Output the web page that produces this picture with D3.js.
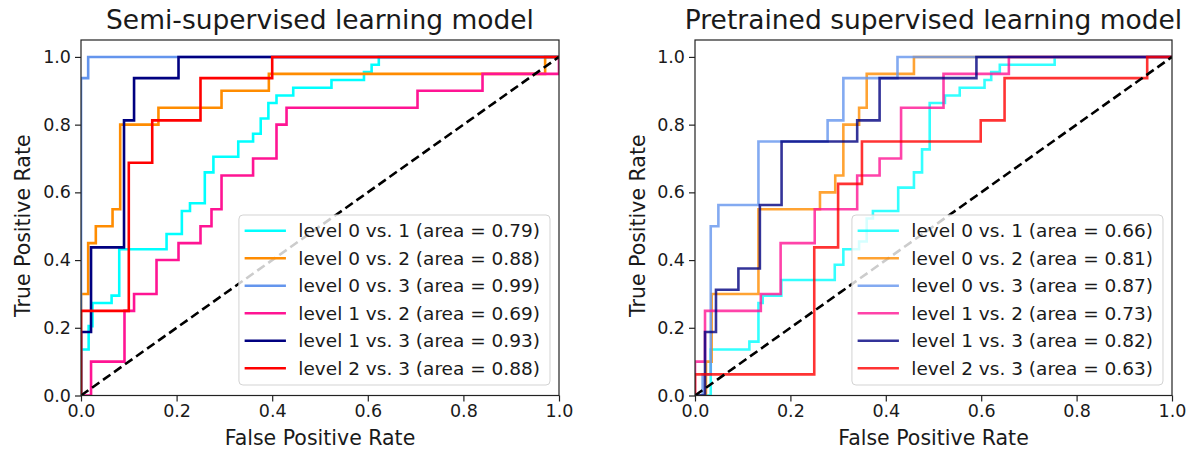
<!DOCTYPE html>
<html>
<head>
<meta charset="utf-8">
<script src="https://cdnjs.cloudflare.com/ajax/libs/d3/7.8.5/d3.min.js"></script>
<style>
  body { margin: 0; background: #fff; }
  svg { display: block; font-family: "DejaVu Sans", sans-serif; }
</style>
</head>
<body>
<svg id="chart" width="1192" height="451"></svg>
<script>
// ---- Axis ticks -------------------------------------------------------
const tickValues = [0, 0.2, 0.4, 0.6, 0.8, 1.0];
const tickLabels = ["0.0", "0.2", "0.4", "0.6", "0.8", "1.0"];

// ---- Class pairs and AUC values ---------------------------------------
const pairLabels = ["level 0 vs. 1", "level 0 vs. 2", "level 0 vs. 3",
                    "level 1 vs. 2", "level 1 vs. 3", "level 2 vs. 3"];
const semiAreas = [0.79, 0.88, 0.99, 0.69, 0.93, 0.88];
const preAreas  = [0.66, 0.81, 0.87, 0.73, 0.82, 0.63];
const panelTitles = ["Semi-supervised learning model", "Pretrained supervised learning model"];
const chance = [0, 1];

// ---- ROC corner points (fpr, tpr), semi-supervised model ----------------
const semiFpr01 = [0, 0, 0.016, 0.024, 0.064, 0.08, 0.179, 0.211, 0.228, 0.259, 0.277, 0.329, 0.36, 0.376, 0.392, 0.409, 0.444, 0.524, 0.592, 0.608, 0.623, 1];
const semiTpr01 = [0, 0.136, 0.205, 0.273, 0.295, 0.432, 0.477, 0.545, 0.568, 0.659, 0.705, 0.75, 0.773, 0.818, 0.864, 0.886, 0.909, 0.932, 0.955, 0.977, 1, 1];
const semiFpr02 = [0, 0, 0.015, 0.031, 0.066, 0.082, 0.162, 0.294, 0.393, 0.971, 1];
const semiTpr02 = [0, 0.3, 0.45, 0.5, 0.55, 0.8, 0.85, 0.9, 0.95, 1, 1];
const semiFpr03 = [0, 0, 0.015, 1];
const semiTpr03 = [0, 0.9375, 1, 1];
const semiFpr12 = [0, 0.021, 0.091, 0.111, 0.158, 0.204, 0.25, 0.273, 0.294, 0.36, 0.409, 0.43, 0.704, 0.84, 1];
const semiTpr12 = [0, 0.1, 0.25, 0.3, 0.4, 0.45, 0.5, 0.55, 0.65, 0.7, 0.8, 0.85, 0.9, 0.95, 1];
const semiFpr13 = [0, 0, 0.021, 0.09, 0.111, 0.204, 1];
const semiTpr13 = [0, 0.1875, 0.4375, 0.8125, 0.9375, 1, 1];
const semiFpr23 = [0, 0, 0.1, 0.149, 0.25, 0.4, 1];
const semiTpr23 = [0, 0.25, 0.6875, 0.8125, 0.9375, 1, 1];

// ---- ROC corner points (fpr, tpr), pretrained supervised model ----------
const preFpr01 = [0, 0.033, 0.114, 0.133, 0.142, 0.181, 0.293, 0.311, 0.344, 0.36, 0.373, 0.426, 0.459, 0.476, 0.492, 0.524, 0.555, 0.607, 0.621, 0.639, 0.754, 1];
const preTpr01 = [0, 0.136, 0.159, 0.273, 0.295, 0.341, 0.386, 0.432, 0.455, 0.523, 0.545, 0.614, 0.659, 0.727, 0.864, 0.886, 0.909, 0.932, 0.955, 0.977, 1, 1];
const preFpr02 = [0, 0.023, 0.035, 0.133, 0.262, 0.294, 0.311, 0.344, 0.36, 0.459, 1];
const preTpr02 = [0, 0.1, 0.3, 0.55, 0.6, 0.65, 0.8, 0.85, 0.95, 1, 1];
const preFpr03 = [0, 0.016, 0.033, 0.049, 0.133, 0.278, 0.311, 0.4245, 1];
const preTpr03 = [0, 0.0625, 0.5, 0.5625, 0.75, 0.8125, 0.9375, 1, 1];
const preFpr12 = [0, 0, 0.021, 0.138, 0.1795, 0.251, 0.34, 0.387, 0.432, 0.521, 0.658, 1];
const preTpr12 = [0, 0.1, 0.25, 0.3, 0.45, 0.55, 0.65, 0.7, 0.85, 0.95, 1, 1];
const preFpr13 = [0, 0.021, 0.044, 0.091, 0.136, 0.1815, 0.34, 0.387, 0.59, 1];
const preTpr13 = [0, 0.1875, 0.3125, 0.375, 0.5625, 0.75, 0.8125, 0.9375, 1, 1];
const preFpr23 = [0, 0, 0.25, 0.3, 0.35, 0.599, 0.649, 0.948, 1];
const preTpr23 = [0, 0.0625, 0.4375, 0.625, 0.75, 0.8125, 0.9375, 1, 1];

// ---- Styling -----------------------------------------------------------
const lineColors = ["#00ffff", "#ff8c00", "#6495ed", "#ff1493", "#000080", "#ff0000"];
const textColor = "#1a1a1a";

const panels = [
  {
    title: panelTitles[0], left: 81, right: 559, ylabelX: 30, opacity: 1,
    areas: semiAreas,
    curves: [[semiFpr01, semiTpr01], [semiFpr02, semiTpr02], [semiFpr03, semiTpr03],
             [semiFpr12, semiTpr12], [semiFpr13, semiTpr13], [semiFpr23, semiTpr23]]
  },
  {
    title: panelTitles[1], left: 695, right: 1172, ylabelX: 645, opacity: 0.8,
    areas: preAreas,
    curves: [[preFpr01, preTpr01], [preFpr02, preTpr02], [preFpr03, preTpr03],
             [preFpr12, preTpr12], [preFpr13, preTpr13], [preFpr23, preTpr23]]
  }
];

const plotTop = 40, plotBottom = 395.5;
const svg = d3.select("#chart");

panels.forEach((p, pi) => {
  const x = d3.scaleLinear().domain([0, 1]).range([p.left, p.right]);
  const y = d3.scaleLinear().domain([0, 1.05]).range([plotBottom, plotTop]);
  const g = svg.append("g");

  const clipId = "clip" + pi;
  g.append("clipPath").attr("id", clipId)
    .append("rect")
    .attr("x", p.left).attr("y", plotTop)
    .attr("width", p.right - p.left).attr("height", plotBottom - plotTop);

  const plot = g.append("g").attr("clip-path", `url(#${clipId})`);

  // ROC staircases: horizontal run first, then the rise
  const roc = d3.line().x(d => x(d[0])).y(d => y(d[1])).curve(d3.curveStepAfter);
  p.curves.forEach((c, i) => {
    plot.append("path")
      .datum(d3.zip(c[0], c[1]))
      .attr("d", roc)
      .attr("fill", "none")
      .attr("stroke", lineColors[i])
      .attr("stroke-opacity", p.opacity)
      .attr("stroke-width", 2.6)
      .attr("stroke-linejoin", "miter");
  });

  // chance diagonal
  const diag = d3.line().x(d => x(d[0])).y(d => y(d[1]));
  plot.append("path")
    .datum(d3.zip(chance, chance))
    .attr("d", diag)
    .attr("fill", "none")
    .attr("stroke", "#000")
    .attr("stroke-width", 2.6)
    .attr("stroke-dasharray", "9,4.5");

  // axes frame
  g.append("rect")
    .attr("x", p.left).attr("y", plotTop)
    .attr("width", p.right - p.left).attr("height", plotBottom - plotTop)
    .attr("fill", "none").attr("stroke", "#222").attr("stroke-width", 1.2);

  const xAxis = d3.axisBottom(x).tickValues(tickValues)
    .tickFormat((d, i) => tickLabels[i]).tickSize(6).tickPadding(3.5).tickSizeOuter(0);
  const yAxis = d3.axisLeft(y).tickValues(tickValues)
    .tickFormat((d, i) => tickLabels[i]).tickSize(6).tickPadding(4).tickSizeOuter(0);

  const gx = g.append("g").attr("transform", `translate(0,${plotBottom})`).call(xAxis);
  const gy = g.append("g").attr("transform", `translate(${p.left},0)`).call(yAxis);
  [gx, gy].forEach(ax => {
    ax.select(".domain").remove();
    ax.selectAll(".tick line").attr("stroke", "#222").attr("stroke-width", 1.2);
    ax.selectAll(".tick text")
      .attr("fill", textColor)
      .style("font-family", "DejaVu Sans")
      .style("font-size", "17.5px");
  });

  // title and axis labels
  g.append("text")
    .attr("x", (p.left + p.right) / 2).attr("y", 29)
    .attr("text-anchor", "middle")
    .attr("fill", textColor)
    .style("font-size", "26.5px")
    .text(p.title);

  g.append("text")
    .attr("x", (p.left + p.right) / 2).attr("y", 444.5)
    .attr("text-anchor", "middle")
    .attr("fill", textColor)
    .style("font-size", "20.5px")
    .text("False Positive Rate");

  g.append("text")
    .attr("transform", `translate(${p.ylabelX},${(plotTop + plotBottom) / 2 + 8}) rotate(-90)`)
    .attr("text-anchor", "middle")
    .attr("fill", textColor)
    .style("font-size", "20.5px")
    .text("True Positive Rate");

  // legend, lower right
  const legend = g.append("g");
  const box = legend.append("rect");
  const rowGap = 27.5, firstRow = 15.7, textX = 59.4;
  let maxW = 0;
  p.curves.forEach((c, i) => {
    const ry = firstRow + i * rowGap;
    legend.append("line")
      .attr("x1", 5.7).attr("x2", 47).attr("y1", ry).attr("y2", ry)
      .attr("stroke", lineColors[i]).attr("stroke-opacity", p.opacity)
      .attr("stroke-width", 2.6);
    const t = legend.append("text")
      .attr("x", textX).attr("y", ry).attr("dy", "0.35em")
      .attr("fill", textColor)
      .style("font-size", "18.5px")
      .text(`${pairLabels[i]} (area = ${p.areas[i].toFixed(2)})`);
    maxW = Math.max(maxW, t.node().getComputedTextLength());
  });
  const legendW = textX + maxW + 10;
  const legendH = 170;
  box.attr("x", 0).attr("y", 0).attr("width", legendW).attr("height", legendH)
    .attr("rx", 4).attr("ry", 4)
    .attr("fill", "#fff").attr("fill-opacity", 0.8)
    .attr("stroke", "#d3d3d3").attr("stroke-width", 1);
  legend.attr("transform", `translate(${p.right - 9 - legendW},${plotBottom - 10.5 - legendH})`);
});
</script>
</body>
</html>
